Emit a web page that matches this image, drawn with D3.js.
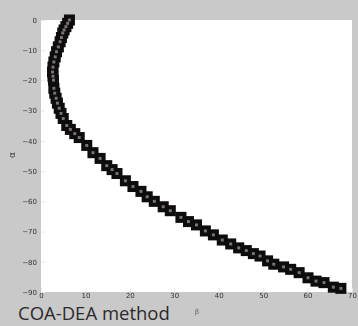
<!DOCTYPE html>
<html>
<head>
<meta charset="utf-8">
<script src="https://cdn.jsdelivr.net/npm/d3@7"></script>
<style>
  body { margin: 0; background: #c9c9c9; }
  svg { display: block; }
</style>
</head>
<body>
<svg id="chart" width="358" height="326"></svg>
<script>
// values (x, y pairs along the curve)
let xValues = [6.4, 6.0, 5.6, 5.2, 4.9, 4.6, 4.3, 3.9, 3.5, 3.2, 2.9, 2.7, 2.6, 2.7, 2.8, 2.9, 3.1, 3.4, 3.7, 4.1, 4.5, 5.0, 5.8, 6.6, 7.6, 8.6, 10.3, 11.7, 13.3, 14.8, 16.0, 17.1, 19.0, 20.7, 22.5, 23.9, 25.5, 27.5, 29.1, 31.5, 33.2, 35.0, 37.0, 38.8, 40.8, 42.7, 44.5, 46.2, 47.8, 49.3, 51.0, 52.4, 54.6, 56.2, 58.1, 60.1, 61.9, 63.7, 65.8, 67.5];
let yValues = [0, -1.1, -2.2, -3.3, -4.3, -5.8, -7.2, -8.9, -10.5, -12.2, -13.9, -15.6, -17.2, -18.6, -19.9, -22.6, -24.2, -25.9, -27.5, -29.2, -30.9, -32.6, -34.9, -36.2, -37.6, -38.9, -41.5, -43.9, -45.8, -48.2, -49.5, -50.8, -53.2, -55.1, -56.7, -58.5, -60.0, -61.8, -63.1, -65.3, -66.7, -67.8, -69.8, -71.1, -72.8, -74.1, -75.4, -76.3, -77.3, -78.1, -79.7, -80.8, -81.7, -82.5, -83.6, -85.3, -86.4, -86.9, -88.4, -88.8];
let xTicks = [0, 10, 20, 30, 40, 50, 60, 70];
let yTicks = [0, -10, -20, -30, -40, -50, -60, -70, -80, -90];

let svg = d3.select("#chart");
let margin = {top: 20, right: 6, bottom: 34, left: 41};
let width = +svg.attr("width") - margin.left - margin.right,
    height = +svg.attr("height") - margin.top - margin.bottom;

let x = d3.scaleLinear().domain([0, 70]).range([0, width]);
let y = d3.scaleLinear().domain([-90, 0]).range([height, 0]);

let g = svg.append("g")
    .attr("transform", "translate(" + margin.left + "," + margin.top + ")");

let defs = svg.append("defs");
defs.append("filter")
    .attr("id", "soft")
    .append("feGaussianBlur")
    .attr("stdDeviation", 0.6);
defs.append("filter")
    .attr("id", "softer")
    .append("feGaussianBlur")
    .attr("stdDeviation", 0.5);

g.append("rect")
    .attr("width", width)
    .attr("height", height)
    .attr("fill", "#ffffff");

// faint tick marks inside the plot
let xAxis = d3.axisBottom(x).tickValues(xTicks).tickSize(-4).tickPadding(1).tickFormat(d3.format("d"));
let yAxis = d3.axisLeft(y).tickValues(yTicks).tickSize(-4).tickPadding(4).tickFormat(d3.format("d"));

let gx = g.append("g")
    .attr("transform", "translate(0," + height + ")")
    .call(xAxis);
let gy = g.append("g").call(yAxis);

[gx, gy].forEach(ax => {
    ax.select(".domain").remove();
    ax.selectAll(".tick line").attr("stroke", "#e8e8e8");
    ax.selectAll(".tick text")
        .attr("fill", "#333")
        .attr("font-family", "DejaVu Sans")
        .attr("font-size", 7)
        .attr("filter", "url(#soft)");
});

let pts = xValues.map((v, i) => ({x: v, y: yValues[i]}));

let markers = g.append("g").attr("filter", "url(#softer)");
markers.selectAll("rect.m")
    .data(pts)
    .join("rect")
    .attr("class", "m")
    .attr("x", d => x(d.x) - 5.5)
    .attr("y", d => y(d.y) - 5.5)
    .attr("width", 11)
    .attr("height", 11)
    .attr("fill", "#0a0808");

markers.selectAll("rect.c")
    .data(pts)
    .join("rect")
    .attr("class", "c")
    .attr("x", d => x(d.x) - 1.5)
    .attr("y", d => y(d.y) - 1.5)
    .attr("width", 3)
    .attr("height", 3)
    .attr("fill", "#7a7373");

// axis labels
svg.append("text")
    .attr("transform", "translate(15,155) rotate(-90)")
    .attr("text-anchor", "middle")
    .attr("font-family", "DejaVu Sans")
    .attr("font-size", 9)
    .attr("fill", "#333")
    .attr("filter", "url(#soft)")
    .text("α");

svg.append("text")
    .attr("x", 197)
    .attr("y", 314)
    .attr("text-anchor", "middle")
    .attr("font-family", "DejaVu Sans")
    .attr("font-size", 7)
    .attr("fill", "#666")
    .attr("filter", "url(#soft)")
    .text("β");

svg.append("text")
    .attr("x", 18)
    .attr("y", 320)
    .attr("font-family", "Open Sans")
    .attr("font-size", 18.5)
    .attr("fill", "#2b2b2b")
    .text("COA-DEA method");
</script>
</body>
</html>
